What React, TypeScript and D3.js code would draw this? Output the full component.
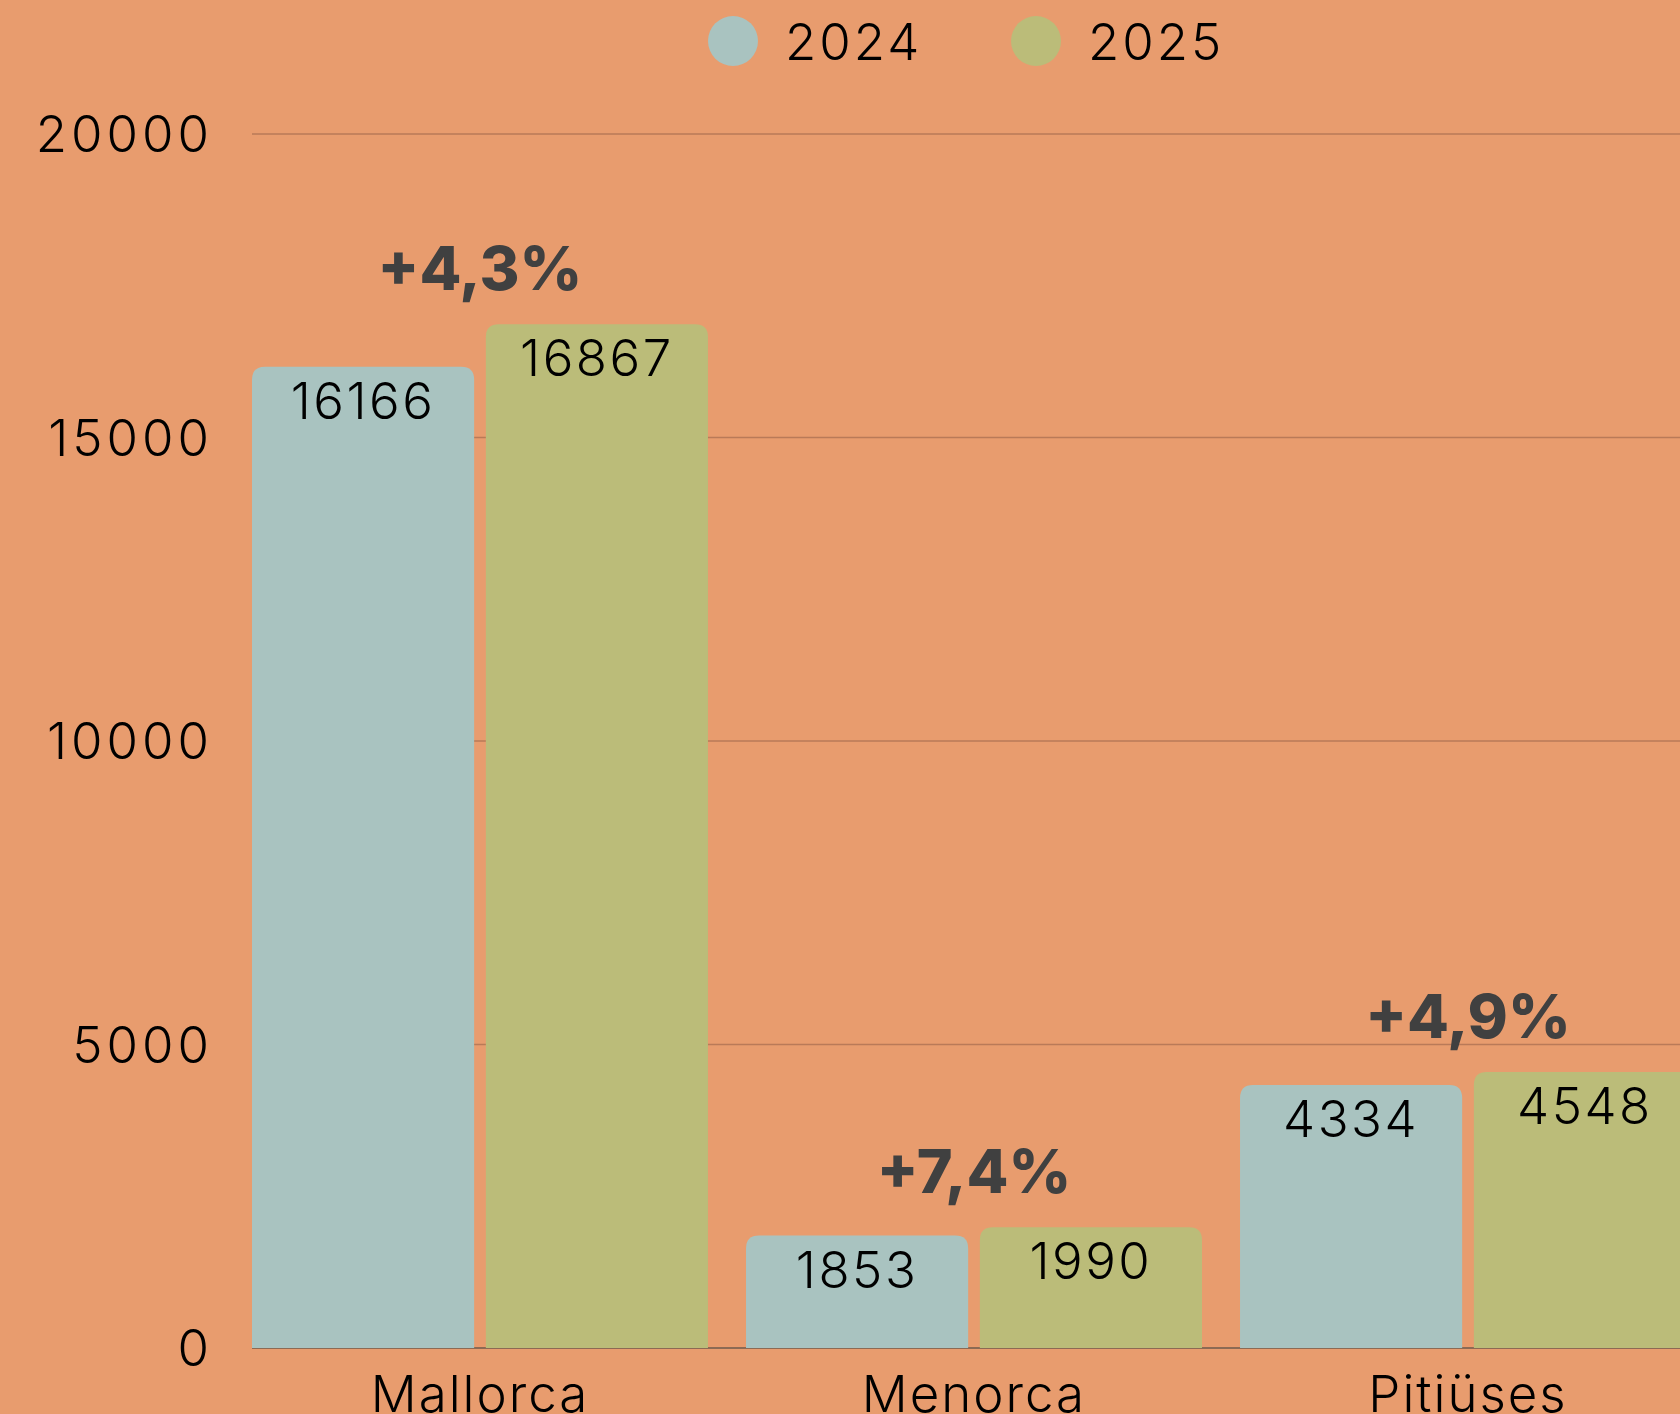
import React from 'react';
import * as d3 from 'd3';

const categories = ['Mallorca', 'Menorca', 'Pitiüses'];
const seriesNames = ['2024', '2025'];
const values2024 = [16166, 1853, 4334];
const values2025 = [16867, 1990, 4548];
const changeLabels = ['+4,3%', '+7,4%', '+4,9%'];
const yTicks = [0, 5000, 10000, 15000, 20000];

const W = 1680;
const H = 1414;
const BG = '#e89c6e';
const COLORS = ['#a9c3c0', '#bbbc79'];
const FONT = 'Inter, Lato, sans-serif';

// bar with rounded top corners only
const topRounded = (x: number, y: number, w: number, h: number, r: number) => {
  const rr = Math.min(r, h, w / 2);
  return `M${x},${y + h}V${y + rr}Q${x},${y} ${x + rr},${y}H${x + w - rr}Q${x + w},${y} ${x + w},${y + rr}V${y + h}Z`;
};

export default function App() {
  const x0 = d3.scaleBand<string>().domain(categories).range([252, 1696]).paddingInner(0.077).paddingOuter(0);
  const x1 = d3.scaleBand<string>().domain(seriesNames).range([0, x0.bandwidth()]).paddingInner(0.05);
  const y = d3.scaleLinear().domain([0, 20000]).range([1348, 134]);

  const rows = categories.map((c, i) => ({ cat: c, vals: [values2024[i], values2025[i]], change: changeLabels[i] }));

  return (
    <svg width={W} height={H} style={{ position: 'absolute', left: 0, top: 0, display: 'block' }}>
      <rect width={W} height={H} fill={BG} />

      {/* grid */}
      {yTicks.map((t) => (
        <g key={t}>
          <line x1={252} x2={W} y1={y(t)} y2={y(t)} stroke={t === 0 ? '#6e5a4c' : '#b97a58'} strokeWidth={1.5} />
          <text x={213} y={y(t) + 18} textAnchor="end" fontFamily={FONT} fontWeight={300} fontSize={51} letterSpacing={4} fill="#000">
            {t}
          </text>
        </g>
      ))}

      {/* bars */}
      {rows.map((row) => {
        const gx = x0(row.cat) as number;
        const maxV = d3.max(row.vals) as number;
        return (
          <g key={row.cat} transform={`translate(${gx},0)`}>
            {row.vals.map((v, j) => {
              const bx = x1(seriesNames[j]) as number;
              const bw = x1.bandwidth();
              return (
                <g key={j}>
                  <path d={topRounded(bx, y(v), bw, y(0) - y(v), 13)} fill={COLORS[j]} />
                  <text x={bx + bw / 2} y={y(v) + 52} textAnchor="middle" fontFamily={FONT} fontWeight={300} fontSize={51} letterSpacing={2.5} fill="#000">
                    {v}
                  </text>
                </g>
              );
            })}
            <text x={x0.bandwidth() / 2} y={y(maxV) - 34} textAnchor="middle" fontFamily={FONT} fontWeight={800} fontSize={61} fill="#404040">
              {row.change}
            </text>
            <text x={x0.bandwidth() / 2} y={1412} textAnchor="middle" fontFamily={FONT} fontWeight={300} fontSize={51} letterSpacing={2} fill="#000">
              {row.cat}
            </text>
          </g>
        );
      })}

      {/* legend */}
      {seriesNames.map((s, i) => (
        <g key={s} transform={`translate(${733 + i * 303},41)`}>
          <circle r={25} fill={COLORS[i]} />
          <text x={52} y={19} fontFamily={FONT} fontWeight={300} fontSize={51} letterSpacing={3} fill="#000">
            {s}
          </text>
        </g>
      ))}
    </svg>
  );
}
